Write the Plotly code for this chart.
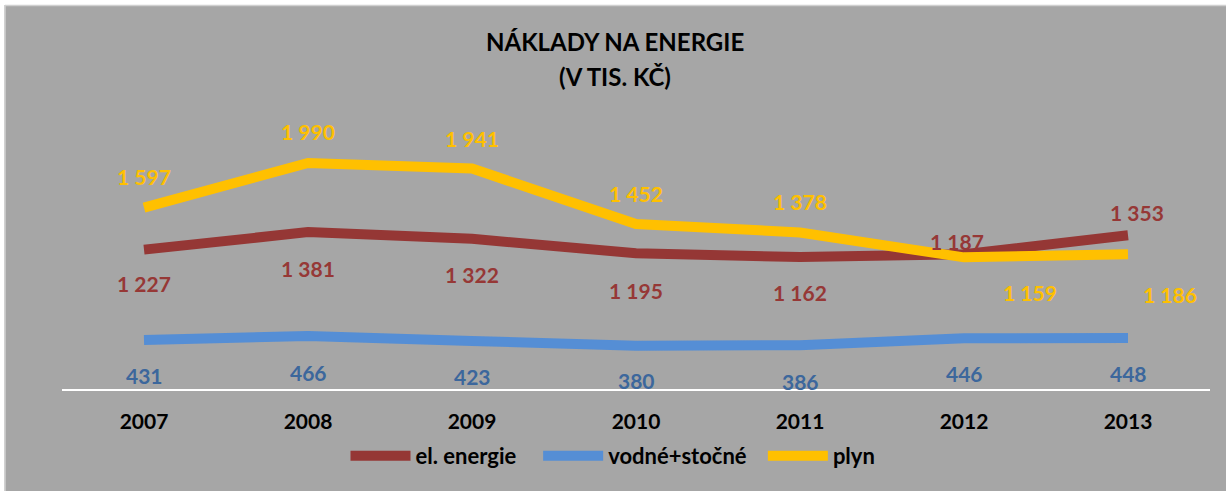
import plotly.graph_objects as go

years = ["2007", "2008", "2009", "2010", "2011", "2012", "2013"]
el_energie = [1227, 1381, 1322, 1195, 1162, 1187, 1353]
vodne_stocne = [431, 466, 423, 380, 386, 446, 448]
plyn = [1597, 1990, 1941, 1452, 1378, 1159, 1186]

# label offsets in px (dx, dy) relative to the point, dy positive = down
el_offsets = [(0, 34), (0, 36), (0, 36), (0, 37), (0, 35), (-7, -13), (9, -23)]
vo_offsets = [(0, 35), (0, 36), (0, 36), (0, 35), (0, 36), (0, 35), (0, 35)]
pl_offsets = [(0, -31), (0, -31), (0, -30), (0, -31), (0, -31), (66, 35), (42, 40)]

RED = "#953735"
RED_TXT = "#963836"
BLUE = "#558ED5"
BLUE_TXT = "#3C679C"
YEL = "#FFC000"
BG = "#A6A6A6"
FONT = "Lato"

W, H = 1226, 491
ML, MR, MT, MB = 62, 16, 105, 102
pw, ph = W - ML - MR, H - MT - MB


def px2x(px):
    return (px - ML) / pw


def py2y(py):
    return (H - MB - py) / ph


def fmt(v):
    return f"{v:,}".replace(",", " ")


NB = "\u00a0"
fig = go.Figure()
series = [
    ("el. energie", el_energie, RED, RED_TXT, el_offsets, NB * 3),
    ("vodné+stočné", vodne_stocne, BLUE, BLUE_TXT, vo_offsets, NB * 2),
    ("plyn", plyn, YEL, YEL, pl_offsets, ""),
]
for name, vals, col, tcol, offs, pad in series:
    fig.add_trace(go.Scatter(
        x=years, y=vals, name=f"<b>{name}</b>{pad}", mode="lines",
        line=dict(color=col, width=10),
        hoverinfo="skip",
    ))

annotations = []
for name, vals, col, tcol, offs, pad in series:
    for i, (yv, (dx, dy)) in enumerate(zip(vals, offs)):
        annotations.append(dict(
            x=i, y=yv, xref="x", yref="y", text=f"<b>{fmt(yv)}</b>",
            showarrow=False, xshift=dx, yshift=-dy,
            font=dict(family=FONT, size=21, color=tcol),
        ))

for txt, py in [("<b>NÁKLADY NA ENERGIE</b>", 42), ("<b>(V TIS. KČ)</b>", 77)]:
    annotations.append(dict(
        x=px2x(615), y=py2y(py), xref="paper", yref="paper",
        text=txt, showarrow=False, xanchor="center", yanchor="middle",
        font=dict(family=FONT, size=24, color="#000000"),
    ))

shapes = [
    dict(type="rect", xref="paper", yref="paper", x0=px2x(-1), x1=px2x(W + 1), y0=py2y(5), y1=py2y(-1),
         fillcolor="#FFFFFF", line=dict(width=0), layer="above"),
    dict(type="rect", xref="paper", yref="paper", x0=px2x(-1), x1=px2x(4.5), y0=py2y(H + 1), y1=py2y(-1),
         fillcolor="#FFFFFF", line=dict(width=0), layer="above"),
    dict(type="line", xref="paper", yref="paper", x0=px2x(5), x1=px2x(W + 1), y0=py2y(5.5), y1=py2y(5.5),
         line=dict(color="#D0D0D0", width=1.5), layer="above"),
    dict(type="line", xref="paper", yref="paper", x0=px2x(5), x1=px2x(5), y0=py2y(5), y1=py2y(H + 1),
         line=dict(color="#D0D0D0", width=1.5), layer="above"),
]

fig.update_layout(
    width=W, height=H,
    margin=dict(l=ML, r=MR, t=MT, b=MB, pad=0),
    paper_bgcolor=BG, plot_bgcolor=BG,
    showlegend=True,
    legend=dict(
        orientation="h", x=px2x(613), xanchor="center", y=py2y(456), yanchor="middle",
        font=dict(family=FONT, size=22, color="#000000"),
        bgcolor="rgba(0,0,0,0)", itemwidth=60, traceorder="normal",
    ),
    xaxis=dict(
        type="category", showgrid=False, zeroline=False,
        showline=True, linecolor="#FFFFFF", linewidth=1.5,
        ticks="", tickfont=dict(family=FONT, size=21, color="#000000"),
        ticklabelstandoff=13,
        tickprefix="<b>", ticksuffix="</b>",
        range=[-0.5, 6.5],
    ),
    yaxis=dict(
        range=[0, 2500], showgrid=False, zeroline=False, showticklabels=False,
        showline=False, ticks="",
    ),
    annotations=annotations,
    shapes=shapes,
)

fig.write_html(
    "out.html",
    config={"displayModeBar": False},
    post_script="document.body.style.margin='0';document.body.style.overflow='hidden';",
)
